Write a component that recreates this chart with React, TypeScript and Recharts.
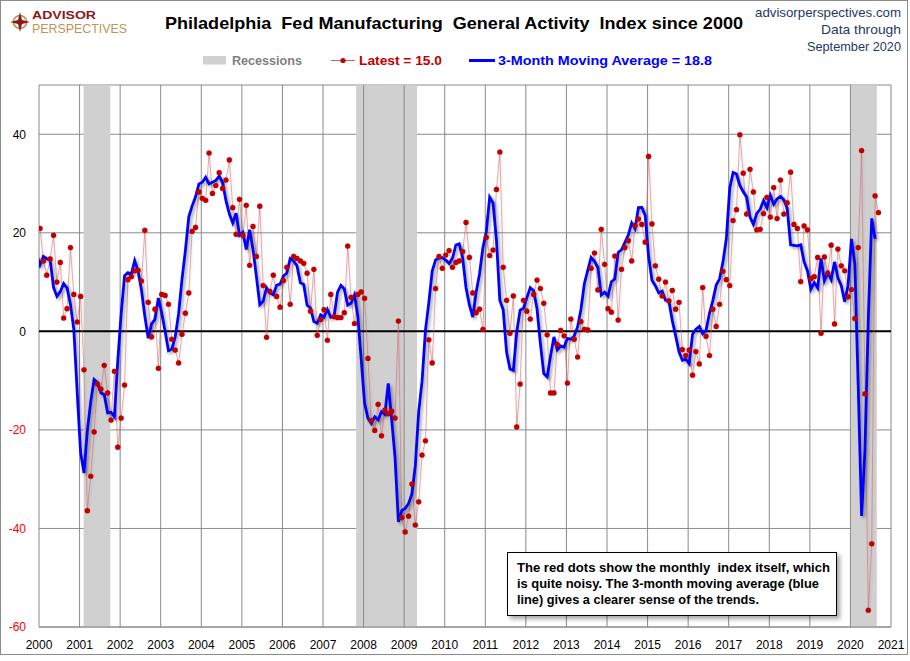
import React from 'react';
import { ComposedChart, Line, XAxis, YAxis, CartesianGrid, ReferenceArea, ReferenceLine } from 'recharts';

const FONT = '"Liberation Sans", Arial, sans-serif';

// Monthly Philly Fed General Activity index values.
// The first red dot shown at the left edge is Nov 1999.
const V1999 = [20.9, 14.3];
const V2000 = [11.4, 14.7, 19.5, 10.0, 14.0, 2.7, 4.6, 17.0, 7.5, 1.9, 7.1, -7.8];
const V2001 = [-36.4, -29.4, -20.4, -10.7, -11.7, -6.9, -12.5, -18.0, -8.1, -23.5, -17.6, -10.9];
const V2002 = [10.5, 11.1, 12.3, 12.4, 10.2, 20.5, 5.9, -1.1, 4.5, -7.5, 7.5, 7.3];
const V2003 = [5.5, -1.6, -3.8, -6.4, -0.6, 3.7, 7.8, 20.3, 21.1, 28.3, 27.0, 26.6];
const V2004 = [36.2, 28.0, 29.6, 32.2, 29.0, 30.7, 34.8, 25.1, 19.7, 26.8, 19.5, 25.6];
const V2005 = [13.4, 21.3, 15.2, 25.4, 9.3, -1.2, 8.1, 11.4, 7.1, 4.9, 10.3, 13.0];
const V2006 = [5.5, 15.2, 14.8, 14.3, 13.8, 11.8, 4.1, 12.6, -0.8, 2.4, 4.4, -1.8];
const V2007 = [7.5, 3.0, 2.8, 2.8, 3.8, 17.3, 6.9, 1.6, 7.5, 8.0, 6.7, -5.5];
const V2008 = [-18.1, -20.1, -14.8, -21.2, -16.0, -16.7, -16.2, -17.6, 2.1, -37.8, -40.7, -37.5];
const V2009 = [-31.0, -39.3, -34.6, -25.1, -22.2, -1.7, -6.4, 8.7, 15.2, 12.8, 15.5, 16.4];
const V2010 = [13.0, 14.0, 14.3, 16.2, 22.1, 15.0, 7.8, 3.8, 4.5, 0.4, 19.1, 15.4];
const V2011 = [16.5, 28.8, 36.4, 13.0, 6.3, -0.4, 7.2, -19.4, -10.7, 6.3, 4.1, 2.5];
const V2012 = [7.5, 10.4, 8.7, 5.7, -0.7, -12.5, -12.5, -2.7, 0.2, -0.9, -10.5, 2.5];
const V2013 = [-1.6, -5.2, 2.0, 0.4, 0.3, 12.8, 15.9, 8.4, 20.7, 13.6, 4.6, 3.9];
const V2014 = [15.3, 2.3, 12.6, 17.0, 18.4, 14.3, 21.5, 22.8, 21.7, 18.1, 35.5, 21.8];
const V2015 = [13.3, 10.6, 7.2, 10.0, 6.2, 8.3, 4.5, 5.9, -3.7, -4.9, -3.8, -8.9];
const V2016 = [-4.1, -6.6, 8.9, -1.0, -4.9, 4.5, 1.0, 5.5, 12.2, 10.5, 9.3, 22.5];
const V2017 = [24.7, 39.9, 32.1, 23.8, 32.9, 28.3, 20.6, 20.7, 23.9, 27.2, 23.2, 29.2];
const V2018 = [22.9, 30.7, 23.8, 26.1, 32.3, 21.7, 20.9, 10.1, 21.4, 20.6, 10.7, 11.1];
const V2019 = [15.0, -0.4, 15.1, 11.8, 17.5, 1.5, 16.7, 13.3, 12.3, 7.0, 8.5, 2.6];
const V2020 = [17.0, 36.7, -12.7, -56.6, -43.1, 27.5, 24.1, 17.2, 15.0];

const MONTHLY = [
  ...V1999, ...V2000, ...V2001, ...V2002, ...V2003, ...V2004, ...V2005, ...V2006,
  ...V2007, ...V2008, ...V2009, ...V2010, ...V2011, ...V2012, ...V2013, ...V2014,
  ...V2015, ...V2016, ...V2017, ...V2018, ...V2019, ...V2020,
];

// Placement on the axis (months after the 2000 gridline), as drawn in the reference
const RED_OFFSET = 0.3; // monthly value k drawn at k + 0.3
const RED_COUNT = 249; // red dots drawn (the chart's red series stops at Jul 2020)
const BLUE_OFFSET = -2.7; // 3-month average ending at k drawn at k - 2.7

const X_YEARS = [2000, 2001, 2002, 2003, 2004, 2005, 2006, 2007, 2008, 2009, 2010, 2011, 2012, 2013, 2014, 2015, 2016, 2017, 2018, 2019, 2020, 2021];
const X_TICKS = X_YEARS.map((y) => (y - 2000) * 12);
const Y_TICKS = [-60, -40, -20, 0, 20, 40];
const Y_DOMAIN = [-60, 50];

// Recession shading, in months after the 2000 gridline
const REC_START = [13.2, 93.8, 240.1];
const REC_END = [21.1, 111.8, 247.8];

const redData = MONTHLY.slice(0, RED_COUNT).map((v, k) => ({ p: k + RED_OFFSET, v }));
// the blue series is the 3-month moving average of the monthly values
const blueData = MONTHLY.map((v, k) =>
  k < 2 ? null : { p: k + BLUE_OFFSET, v: (MONTHLY[k - 2] + MONTHLY[k - 1] + v) / 3 }
).filter(Boolean) as { p: number; v: number }[];

const LATEST = MONTHLY[MONTHLY.length - 1].toFixed(1);
const LATEST_MA = blueData[blueData.length - 1].v.toFixed(1);

const GRID = '#8a8a8a';

const XTick = (props: any) => {
  const { x, y, payload } = props;
  return (
    <text x={x} y={y} dy={22} textAnchor="middle" fontSize={12} fill="#000" fontFamily={FONT}>
      {2000 + Math.round(payload.value / 12)}
    </text>
  );
};

const YTick = (props: any) => {
  const { x, y, payload } = props;
  return (
    <text x={x} y={y} dy={4.3} textAnchor="end" fontSize={12} fill={payload.value < 0 ? '#FF0000' : '#000'} fontFamily={FONT}>
      {payload.value}
    </text>
  );
};

export default function App() {
  return (
    <div style={{ position: 'absolute', left: 0, top: 0, width: 910, height: 661, background: '#fff', fontFamily: FONT }}>
      <style>{`.ma-line .recharts-line-curve{filter:drop-shadow(2px 2px 1.5px rgba(0,0,0,0.35));}
.red-line .recharts-line-curve{filter:drop-shadow(1px 1px 1px rgba(0,0,0,0.15));}`}</style>
      <div style={{ position: 'absolute', left: 0, top: 0, width: 908, height: 655, border: '1px solid #8c8c8c', boxSizing: 'border-box' }} />
      <div style={{ position: 'absolute', left: 0, top: 0 }}>
        <ComposedChart width={910} height={661} margin={{ top: 85, right: 19, bottom: 0, left: 0 }}>
          <CartesianGrid vertical={false} stroke={GRID} strokeWidth={1} />
          <XAxis
            type="number"
            dataKey="p"
            domain={[0, 252]}
            ticks={X_TICKS}
            allowDataOverflow
            height={34}
            axisLine={{ stroke: GRID }}
            tickLine={false}
            tickSize={0}
            tickMargin={0}
            interval={0}
            tick={(p: any) => <XTick {...p} />}
          />
          <YAxis
            type="number"
            domain={Y_DOMAIN}
            ticks={Y_TICKS}
            allowDataOverflow
            width={39}
            axisLine={false}
            tickLine={false}
            tickSize={0}
            tickMargin={13}
            interval={0}
            tick={(p: any) => <YTick {...p} />}
          />
          {REC_START.map((s, i) => (
            <ReferenceArea key={'r' + i} x1={s} x2={REC_END[i]} fill="#D0D0D0" fillOpacity={1} stroke="none" />
          ))}
          {X_TICKS.map((t) => (
            <ReferenceLine key={'v' + t} x={t} stroke={GRID} strokeWidth={1} />
          ))}
          <ReferenceLine y={0} stroke="#000" strokeWidth={2} />
          <Line
            className="red-line"
            data={redData}
            dataKey="v"
            type="linear"
            stroke="#D86060"
            strokeOpacity={0.55}
            strokeWidth={1}
            dot={{ r: 2.6, fill: '#C00000', stroke: '#C00000', strokeWidth: 0.5 }}
            activeDot={false}
            isAnimationActive={false}
          />
          <Line
            className="ma-line"
            data={blueData}
            dataKey="v"
            type="linear"
            stroke="#0000FF"
            strokeWidth={2.8}
            dot={false}
            activeDot={false}
            isAnimationActive={false}
          />
        </ComposedChart>
      </div>
      <svg width={910} height={661} style={{ position: 'absolute', left: 0, top: 0, pointerEvents: 'none' }} fontFamily={FONT}>
        <defs>
          <filter id="boxShadow" x="-10%" y="-10%" width="120%" height="130%">
            <feDropShadow dx="3" dy="3" stdDeviation="2" floodColor="#000" floodOpacity="0.35" />
          </filter>
        </defs>
        {/* logo */}
        <circle cx={20} cy={22} r={6.5} fill="none" stroke="#C08a50" strokeWidth={1.5} />
        <polygon points="20,12 22,20 30,22 22,24 20,32 18,24 10,22 18,20" fill="#8B1A1A" />
        <text x={32} y={19} fontSize={11.5} fontWeight="bold" fill="#8B1A1A" textLength={64} lengthAdjust="spacingAndGlyphs">ADVISOR</text>
        <text x={32} y={32.5} fontSize={12} fill="#C0935A" textLength={95} lengthAdjust="spacingAndGlyphs">PERSPECTIVES</text>
        {/* title */}
        <text x={165} y={28.5} fontSize={17} fontWeight="bold" fill="#000" textLength={578} lengthAdjust="spacingAndGlyphs" style={{ whiteSpace: 'pre' }}>
          Philadelphia  Fed Manufacturing  General Activity  Index since 2000
        </text>
        {/* right info */}
        <text x={901} y={17} fontSize={13} textAnchor="end" fill="#1F3864" textLength={146} lengthAdjust="spacingAndGlyphs">advisorperspectives.com</text>
        <text x={901} y={34} fontSize={13} textAnchor="end" fill="#1F3864" textLength={80} lengthAdjust="spacingAndGlyphs">Data through</text>
        <text x={901} y={51} fontSize={13} textAnchor="end" fill="#1F3864" textLength={94} lengthAdjust="spacingAndGlyphs">September 2020</text>
        {/* legend */}
        <rect x={203} y={56} width={23} height={8.5} fill="#D0D0D0" />
        <text x={232} y={65} fontSize={13} fontWeight="bold" fill="#7F7F7F" textLength={70} lengthAdjust="spacingAndGlyphs">Recessions</text>
        <line x1={331} x2={355} y1={60.5} y2={60.5} stroke="#D86060" strokeWidth={1} />
        <circle cx={343} cy={60.5} r={2.6} fill="#C00000" />
        <text x={359} y={65} fontSize={13} fontWeight="bold" fill="#C00000" textLength={83} lengthAdjust="spacingAndGlyphs">{`Latest = ${LATEST}`}</text>
        <line x1={469} x2={495} y1={60.5} y2={60.5} stroke="#0000FF" strokeWidth={3} />
        <text x={498} y={65} fontSize={13} fontWeight="bold" fill="#0000FF" textLength={214} lengthAdjust="spacingAndGlyphs">{`3-Month Moving Average = ${LATEST_MA}`}</text>
        {/* annotation box */}
        <rect x={507.5} y={552.5} width={329} height={63} fill="#fff" stroke="#000" strokeWidth={1} filter="url(#boxShadow)" />
        <text x={517} y={571.5} fontSize={13} fontWeight="bold" fill="#000" textLength={313} lengthAdjust="spacingAndGlyphs" style={{ whiteSpace: 'pre' }}>
          The red dots show the monthly  index itself, which
        </text>
        <text x={517} y={587.5} fontSize={13} fontWeight="bold" fill="#000" textLength={302} lengthAdjust="spacingAndGlyphs">
          is quite noisy. The 3-month moving average (blue
        </text>
        <text x={517} y={603.5} fontSize={13} fontWeight="bold" fill="#000" textLength={242} lengthAdjust="spacingAndGlyphs">
          line) gives a clearer sense of the trends.
        </text>
      </svg>
    </div>
  );
}
